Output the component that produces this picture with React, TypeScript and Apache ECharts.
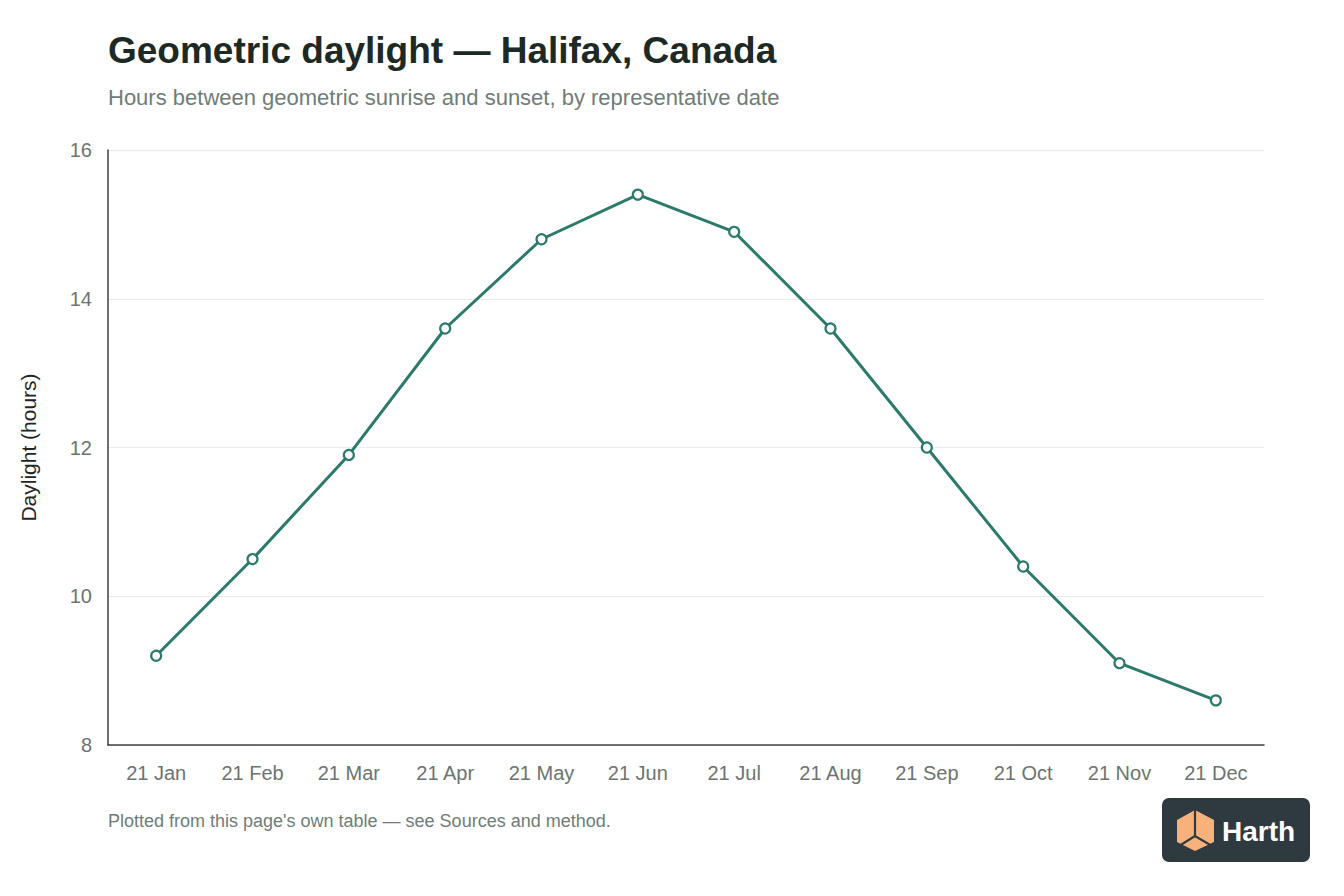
import { useEffect, useRef } from 'react';
import * as echarts from 'echarts';

const months = ['21 Jan', '21 Feb', '21 Mar', '21 Apr', '21 May', '21 Jun', '21 Jul', '21 Aug', '21 Sep', '21 Oct', '21 Nov', '21 Dec'];
const daylightHours = [9.2, 10.5, 11.9, 13.6, 14.8, 15.4, 14.9, 13.6, 12.0, 10.4, 9.1, 8.6];

const FONT = '"Liberation Sans", Arial, Helvetica, sans-serif';
const TEAL = '#2b7a6c';

export default function App() {
  const chartRef = useRef<HTMLDivElement>(null);

  useEffect(() => {
    if (!chartRef.current) return;
    const chart = echarts.init(chartRef.current, null, { renderer: 'svg' });
    chart.setOption({
      animation: false,
      backgroundColor: '#ffffff',
      textStyle: { fontFamily: FONT },
      title: {
        left: 108,
        top: 30,
        padding: 0,
        itemGap: 16,
        text: 'Geometric daylight — Halifax, Canada',
        subtext: 'Hours between geometric sunrise and sunset, by representative date',
        textStyle: { fontFamily: FONT, fontSize: 37, fontWeight: 'bold', color: '#1c2925', lineHeight: 40 },
        subtextStyle: { fontFamily: FONT, fontSize: 22, color: '#6e7d78' },
      },
      grid: { left: 108, right: 80, top: 150, bottom: 151, containLabel: false },
      xAxis: {
        type: 'category',
        data: months,
        boundaryGap: true,
        axisLine: { lineStyle: { color: '#3d4240', width: 1.5 } },
        axisTick: { show: false },
        axisLabel: { color: '#6b7470', fontSize: 20, margin: 18, fontFamily: FONT },
      },
      yAxis: {
        type: 'value',
        min: 8,
        max: 16,
        interval: 2,
        name: 'Daylight (hours)',
        nameLocation: 'middle',
        nameRotate: 90,
        nameGap: 69,
        nameTextStyle: { color: '#1f2624', fontSize: 21, fontFamily: FONT },
        axisLine: { show: true, lineStyle: { color: '#3d4240', width: 1.5 } },
        axisTick: { show: false },
        axisLabel: { color: '#6b7470', fontSize: 20, margin: 16, fontFamily: FONT },
        splitLine: { lineStyle: { color: '#e8ebea', width: 1 } },
      },
      series: [
        {
          type: 'line',
          data: daylightHours,
          lineStyle: { color: TEAL, width: 3 },
          itemStyle: { color: '#ffffff', borderColor: TEAL, borderWidth: 2.2 },
          symbol: 'circle',
          symbolSize: 10,
          showSymbol: true,
          z: 3,
        },
      ],
      graphic: [
        {
          type: 'text',
          left: 108,
          top: 812,
          style: {
            text: "Plotted from this page's own table — see Sources and method.",
            fill: '#6e7d78',
            font: `18px ${FONT}`,
          },
        },
        {
          type: 'group',
          left: 1162,
          top: 798,
          children: [
            { type: 'rect', shape: { x: 0, y: 0, width: 148, height: 64, r: 7 }, style: { fill: '#2e3a40' } },
            {
              type: 'polygon',
              shape: { points: [[33, 12], [52, 22], [52, 44], [33, 53], [15, 44], [15, 22]] },
              style: { fill: '#f7b27c' },
            },
            {
              type: 'polyline',
              shape: { points: [[33, 12], [33, 38]] },
              style: { stroke: '#2e3a40', lineWidth: 2.2, fill: 'none' },
            },
            {
              type: 'polyline',
              shape: { points: [[17, 48], [33, 38], [50, 48]] },
              style: { stroke: '#2e3a40', lineWidth: 2.2, fill: 'none' },
            },
            {
              type: 'text',
              x: 60,
              y: 33,
              style: {
                text: 'Harth',
                fill: '#ffffff',
                font: `bold 28px ${FONT}`,
                textVerticalAlign: 'middle',
              },
            },
          ],
        },
      ],
    });
    return () => chart.dispose();
  }, []);

  return (
    <div
      ref={chartRef}
      style={{ position: 'fixed', left: 0, top: 0, width: 1344, height: 896 }}
    />
  );
}
